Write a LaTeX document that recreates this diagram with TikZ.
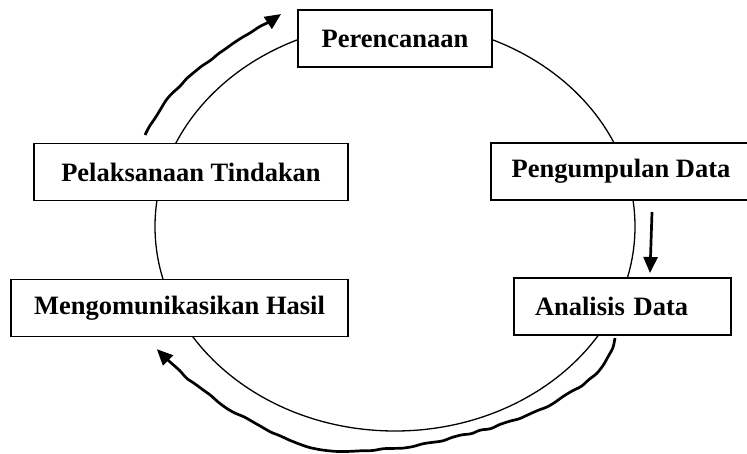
\documentclass[tikz,border=0pt]{standalone}
\usepackage{fontspec}
\setmainfont{Liberation Serif}
\usetikzlibrary{arrows.meta,decorations.pathmorphing}
\tikzset{
  stage/.style = {draw, line width=1.6pt, fill=white, rectangle, minimum height=57pt, inner sep=0pt, font=\fontsize{26.5}{30}\selectfont\bfseries},
  cycle/.style = {line width=1.3pt},
  arrow/.style = {line width=2.7pt, -{Triangle[length=16pt,width=14pt]}},
  wavy/.style = {arrow, rounded corners=3pt, decorate, decoration={random steps, segment length=10pt, amplitude=1.1pt}}
}

\begin{document}
\begin{tikzpicture}[x=1pt,y=1pt]
  \pgfmathsetseed{7}
  \useasboundingbox (0,0) rectangle (747,453);
  \clip (0,0) rectangle (747,453);
  \coordinate (c) at (395,226.4);
  \draw[cycle] (c) ellipse [x radius=240pt, y radius=204.4pt];
  \node[stage, minimum width=194pt] (pr) at (395,414.5) {Perencanaan};
  \node[stage, minimum width=314pt] (pt) at (191,281) {Pelaksanaan Tindakan};
  \node[stage, minimum width=260pt] (pd) at (621,281.5) {Pengumpulan Data};
  \node[stage, text width=175pt, inner xsep=21pt, align=left] (ad) at (622.5,146.5) {Analisis Data};
  \node[stage, minimum width=337pt] (mh) at (179.5,145) {Mengomunikasikan Hasil};
  % arrows round the cycle
  \coordinate (t0) at (145,318);
  \coordinate (t1) at (281,439);
  \draw[wavy] (t0) to[out=62,in=213] (t1);
  \coordinate (d0) at (652,241);
  \coordinate (d1) at (650,180);
  \draw[arrow] (d0) -- (d1);
  \coordinate (b0) at (615,115);
  \coordinate (b1) at (340,1.5);
  \coordinate (b2) at (157,104);
  \draw[wavy] (b0) .. controls (603,45) and (440,1.5) .. (b1)
    .. controls (290,1.5) and (200,55) .. (b2);
\end{tikzpicture}
\end{document}
